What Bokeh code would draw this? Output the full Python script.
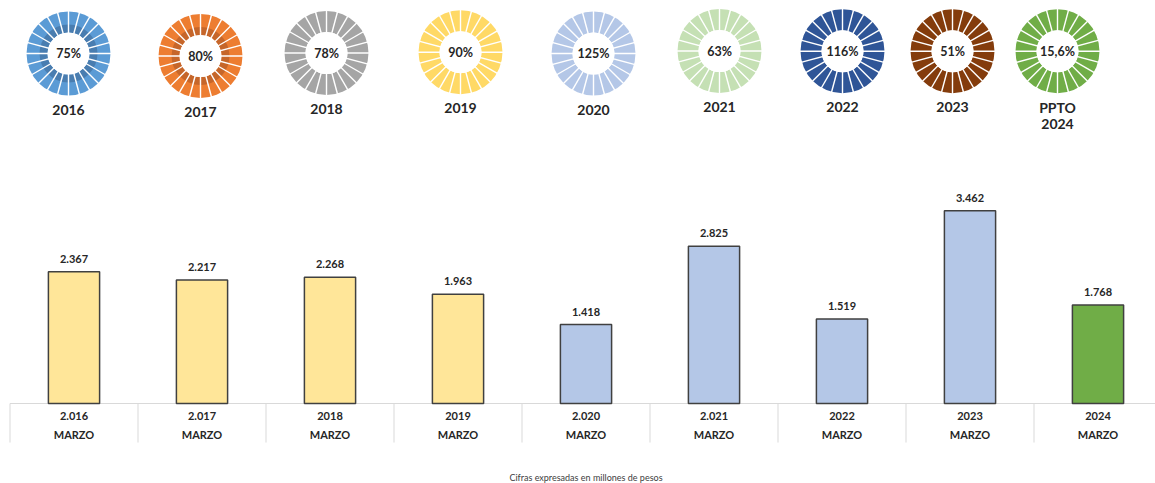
import numpy as np
from bokeh.plotting import figure
from bokeh.layouts import column
from bokeh.models import Range1d, ColumnDataSource
from bokeh.core.properties import value
from bokeh.embed import file_html
from bokeh.resources import INLINE

# ---------------- data ----------------
categories = ["2.016", "2.017", "2018", "2019", "2.020", "2.021", "2022", "2023", "2024"]
sub_label = "MARZO"
values = [2367, 2217, 2268, 1963, 1418, 2825, 1519, 3462, 1768]
bar_colors = ["#FFE699", "#FFE699", "#FFE699", "#FFE699",
              "#B4C7E7", "#B4C7E7", "#B4C7E7", "#B4C7E7", "#70AD47"]

donut_line1 = ["2016", "2017", "2018", "2019", "2020", "2021", "2022", "2023", "PPTO"]
donut_line2 = ["", "", "", "", "", "", "", "", "2024"]
donut_pct = ["75%", "80%", "78%", "90%", "125%", "63%", "116%", "51%", "15,6%"]
donut_colors = ["#5B9BD5", "#ED7D31", "#A5A5A5", "#FFD966", "#B4C7E7",
                "#C5E0B4", "#2F5597", "#843C0C", "#70AD47"]
donut_band = ["#497DB0", "#C6662A", None, None, None, None, None, None, None]

footer = "Cifras expresadas en millones de pesos"

# ---------------- layout constants ----------------
W = 1155
H_TOP = 158
H_BAR = 325
DONUT_X = [68, 200, 326, 460, 593, 719, 842, 952, 1057]
DONUT_Y = [53, 55.5, 52.5, 51.7, 53, 50.5, 50.8, 50.8, 50.8]
R_OUT, R_BAND, R_IN = 42, 29, 21
N_SEG = 24
FONT = "Lato"
TXT = "#262626"

# ---------------- top: donut icons ----------------
top = figure(width=W, height=H_TOP, x_range=Range1d(0, W), y_range=Range1d(H_TOP, 0),
             toolbar_location=None, output_backend="svg", min_border=0,
             x_axis_location=None, y_axis_location=None, outline_line_color=None)
top.grid.visible = False

nd = len(donut_colors)
top.annular_wedge(x=DONUT_X, y=DONUT_Y, inner_radius=R_IN, outer_radius=R_OUT,
                  start_angle=0, end_angle=2 * np.pi, fill_color=donut_colors, line_color=None)
band_idx = [i for i in range(nd) if donut_band[i]]
top.annular_wedge(x=[DONUT_X[i] for i in band_idx], y=[DONUT_Y[i] for i in band_idx],
                  inner_radius=R_IN, outer_radius=R_BAND, start_angle=0, end_angle=2 * np.pi,
                  fill_color=[donut_band[i] for i in band_idx], line_color=None)

seg = 2 * np.pi / N_SEG
rx, ry, ra = [], [], []
for i in range(nd):
    for k in range(N_SEG):
        rx.append(DONUT_X[i]); ry.append(DONUT_Y[i]); ra.append(k * seg)
top.ray(x=rx, y=ry, angle=ra, length=R_OUT + 3, length_units="screen",
        line_color="white", line_width=1.4)
top.circle(x=DONUT_X, y=DONUT_Y, radius=R_IN, fill_color="white", line_color=None)

top.text(x=DONUT_X, y=DONUT_Y, text=donut_pct, text_align="center", text_baseline="middle",
         text_font=value(FONT), text_font_style="bold", text_font_size="12.5px", text_color=TXT)
lab_y = [y + 56 for y in DONUT_Y]
top.text(x=DONUT_X, y=lab_y, text=donut_line1, text_align="center", text_baseline="middle",
         text_font=value(FONT), text_font_style="bold", text_font_size="14px", text_color=TXT)
top.text(x=DONUT_X, y=[y + 17 for y in lab_y], text=donut_line2, text_align="center",
         text_baseline="middle", text_font=value(FONT), text_font_style="bold",
         text_font_size="14px", text_color=TXT)

# ---------------- bottom: bars ----------------
n = len(categories)
xs = np.arange(n) + 0.5
CELL = 128.0
x0 = (0 - 9.5) / CELL
x1 = x0 + W / CELL
Y_MIN, Y_MAX = -1436, 4399
bars = figure(width=W, height=H_BAR, x_range=Range1d(x0, x1), y_range=Range1d(Y_MIN, Y_MAX),
              toolbar_location=None, output_backend="svg", min_border=0,
              x_axis_location=None, y_axis_location=None, outline_line_color=None)
bars.grid.visible = False

units_per_px = (Y_MAX - Y_MIN) / H_BAR
bounds = np.arange(n + 1)
bars.segment(x0=bounds, x1=bounds, y0=0, y1=-39 * units_per_px, line_color="#D9D9D9", line_width=1)
bars.segment(x0=[0], x1=[n], y0=[0], y1=[0], line_color="#D9D9D9", line_width=1.2)

bars.vbar(x=xs, top=values, bottom=0, width=0.4, fill_color=bar_colors,
          line_color="#404040", line_width=1.5)

val_labels = [f"{v:,}".replace(",", ".") for v in values]
bars.text(x=xs, y=values, text=val_labels, text_align="center", text_baseline="middle",
          y_offset=-13, text_font=value(FONT), text_font_style="bold", text_font_size="11px",
          text_color=TXT)
bars.text(x=xs, y=np.zeros(n), text=categories, text_align="center", text_baseline="middle",
          y_offset=12, text_font=value(FONT), text_font_style="bold", text_font_size="11px",
          text_color=TXT)
bars.text(x=xs, y=np.zeros(n), text=[sub_label] * n, text_align="center", text_baseline="middle",
          y_offset=31, text_font=value(FONT), text_font_style="bold", text_font_size="11px",
          text_color=TXT)
bars.text(x=[n / 2], y=[0], text=[footer], text_align="center", text_baseline="middle",
          y_offset=74, text_font=value(FONT), text_font_size="9px", text_color="#404040")

layout = column(top, bars, spacing=0)
open("out.html", "w").write(file_html(layout, INLINE))
